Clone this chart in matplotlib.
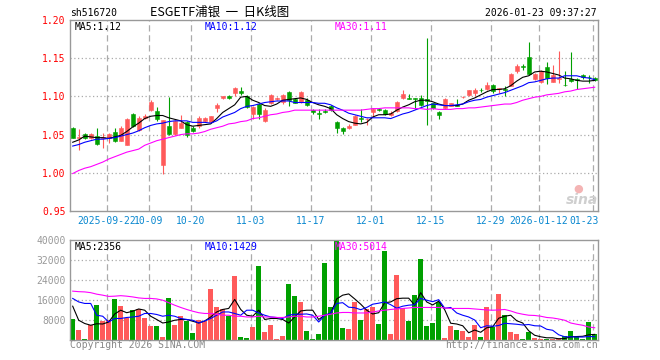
import matplotlib
matplotlib.use("Agg")
import matplotlib.pyplot as plt
import numpy as np

# ---- data (one entry per trading day, 2025-09-12 .. 2026-01-23)
opens = [1.059, 1.046, 1.051, 1.045, 1.048, 1.046, 1.045, 1.053, 1.042, 1.037,
         1.077, 1.056, 1.072, 1.082, 1.081, 1.010, 1.061, 1.051, 1.059, 1.067,
         1.059, 1.061, 1.068, 1.067, 1.085, 1.098, 1.100, 1.104, 1.107, 1.101,
         1.077, 1.090, 1.068, 1.092, 1.096, 1.093, 1.106, 1.096, 1.093, 1.095,
         1.082, 1.078, 1.081, 1.087, 1.067, 1.059, 1.059, 1.063, 1.072, 1.070,
         1.079, 1.083, 1.082, 1.076, 1.081, 1.098, 1.098, 1.098, 1.098, 1.097,
         1.091, 1.080, 1.085, 1.088, 1.089, 1.099, 1.102, 1.105, 1.109, 1.110,
         1.115, 1.110, 1.110, 1.114, 1.133, 1.140, 1.152, 1.123, 1.119, 1.139,
         1.119, 1.123, 1.1155, 1.123, 1.123, 1.128, 1.126, 1.124]
highs = [1.060, 1.057, 1.052, 1.052, 1.059, 1.052, 1.052, 1.059, 1.061, 1.072,
         1.078, 1.074, 1.077, 1.095, 1.086, 1.069, 1.099, 1.069, 1.076, 1.068,
         1.061, 1.074, 1.073, 1.075, 1.092, 1.101, 1.102, 1.112, 1.112, 1.102,
         1.087, 1.091, 1.085, 1.103, 1.099, 1.103, 1.107, 1.098, 1.107, 1.098,
         1.083, 1.083, 1.084, 1.089, 1.068, 1.060, 1.064, 1.076, 1.084, 1.072,
         1.085, 1.085, 1.083, 1.081, 1.094, 1.108, 1.103, 1.098, 1.102, 1.176,
         1.092, 1.081, 1.098, 1.092, 1.096, 1.101, 1.109, 1.111, 1.111, 1.119,
         1.116, 1.111, 1.113, 1.130, 1.143, 1.143, 1.171, 1.130, 1.134, 1.145,
         1.141, 1.159, 1.133, 1.158, 1.124, 1.129, 1.128, 1.125]
lows = [1.045, 1.030, 1.044, 1.044, 1.036, 1.032, 1.039, 1.040, 1.041, 1.036,
        1.060, 1.055, 1.070, 1.081, 1.068, 0.999, 1.050, 1.050, 1.058, 1.047,
        1.054, 1.059, 1.067, 1.066, 1.080, 1.097, 1.097, 1.100, 1.102, 1.085,
        1.071, 1.071, 1.066, 1.090, 1.095, 1.090, 1.088, 1.091, 1.092, 1.087,
        1.077, 1.070, 1.078, 1.081, 1.052, 1.051, 1.057, 1.062, 1.067, 1.063,
        1.073, 1.081, 1.076, 1.074, 1.080, 1.096, 1.097, 1.084, 1.087, 1.062,
        1.083, 1.070, 1.084, 1.087, 1.087, 1.098, 1.100, 1.100, 1.106, 1.108,
        1.105, 1.105, 1.101, 1.113, 1.131, 1.135, 1.128, 1.122, 1.118, 1.116,
        1.119, 1.118, 1.114, 1.119, 1.110, 1.123, 1.118, 1.120]
closes = [1.046, 1.047, 1.045, 1.051, 1.038, 1.047, 1.051, 1.041, 1.059, 1.070,
          1.061, 1.072, 1.075, 1.093, 1.070, 1.069, 1.051, 1.068, 1.065, 1.050,
          1.055, 1.072, 1.072, 1.074, 1.089, 1.100, 1.098, 1.111, 1.105, 1.086,
          1.086, 1.077, 1.082, 1.102, 1.098, 1.102, 1.095, 1.092, 1.106, 1.089,
          1.079, 1.077, 1.080, 1.082, 1.059, 1.055, 1.061, 1.075, 1.070, 1.071,
          1.084, 1.082, 1.077, 1.078, 1.093, 1.103, 1.097, 1.097, 1.089, 1.094,
          1.085, 1.076, 1.097, 1.091, 1.088, 1.099, 1.108, 1.109, 1.108, 1.115,
          1.107, 1.111, 1.109, 1.129, 1.140, 1.139, 1.129, 1.129, 1.133, 1.124,
          1.128, 1.124, 1.1148, 1.120, 1.122, 1.125, 1.125, 1.121]
volume = [8500, 4000, 400, 6100, 14100, 7700, 8000, 16400, 13600, 9000,
          12100, 12500, 8800, 5600, 5600, 1300, 16800, 6000, 9600, 7600,
          2800, 8000, 7600, 20400, 13300, 12400, 9600, 25600, 1300, 1000,
          5200, 29600, 3200, 6000, 400, 1600, 22400, 17600, 15200, 3600,
          400, 2400, 30800, 13200, 39600, 4800, 4400, 15200, 8000, 12400,
          13200, 6400, 35600, 2400, 26000, 12800, 7600, 18000, 32400, 5600,
          6800, 15200, 800, 5600, 4000, 3600, 1200, 6000, 1200, 13200,
          5200, 18400, 10000, 3200, 2400, 400, 3200, 800, 400, 400,
          400, 800, 1600, 3600, 1200, 400, 7200, 2400]

ma5 = [1.040, 1.043, 1.048, 1.047, 1.046, 1.046, 1.045, 1.047, 1.049, 1.054,
       1.060, 1.065, 1.071, 1.074, 1.075, 1.075, 1.072, 1.070, 1.068, 1.063,
       1.061, 1.062, 1.063, 1.064, 1.071, 1.079, 1.084, 1.089, 1.099, 1.100,
       1.095, 1.092, 1.088, 1.087, 1.090, 1.095, 1.096, 1.097, 1.098, 1.096,
       1.092, 1.089, 1.087, 1.084, 1.076, 1.071, 1.067, 1.065, 1.064, 1.066,
       1.073, 1.076, 1.076, 1.077, 1.082, 1.086, 1.089, 1.093, 1.095, 1.095,
       1.093, 1.090, 1.088, 1.088, 1.088, 1.090, 1.095, 1.098, 1.102, 1.106,
       1.109, 1.109, 1.110, 1.114, 1.120, 1.125, 1.127, 1.132, 1.133, 1.132,
       1.130, 1.128, 1.124, 1.123, 1.121, 1.120, 1.120, 1.121]
ma10 = [1.035, 1.037, 1.040, 1.042, 1.044, 1.044, 1.045, 1.046, 1.048, 1.050,
        1.052, 1.055, 1.059, 1.062, 1.064, 1.065, 1.067, 1.068, 1.068, 1.068,
        1.066, 1.066, 1.066, 1.065, 1.068, 1.073, 1.076, 1.079, 1.084, 1.087,
        1.088, 1.090, 1.092, 1.093, 1.094, 1.094, 1.094, 1.092, 1.092, 1.092,
        1.092, 1.091, 1.091, 1.089, 1.085, 1.082, 1.078, 1.076, 1.074, 1.072,
        1.072, 1.072, 1.072, 1.071, 1.074, 1.077, 1.079, 1.082, 1.085, 1.088,
        1.090, 1.089, 1.088, 1.088, 1.089, 1.090, 1.093, 1.095, 1.096, 1.099,
        1.101, 1.103, 1.105, 1.108, 1.111, 1.114, 1.118, 1.119, 1.121, 1.123,
        1.124, 1.124, 1.127, 1.127, 1.127, 1.125, 1.124, 1.122]
ma30 = [0.999, 1.003, 1.006, 1.008, 1.011, 1.014, 1.018, 1.021, 1.024, 1.027,
        1.029, 1.031, 1.036, 1.039, 1.042, 1.044, 1.046, 1.048, 1.050, 1.051,
        1.051, 1.052, 1.054, 1.057, 1.059, 1.061, 1.064, 1.065, 1.067, 1.068,
        1.071, 1.072, 1.074, 1.076, 1.077, 1.079, 1.080, 1.082, 1.082, 1.082,
        1.082, 1.082, 1.082, 1.082, 1.082, 1.082, 1.082, 1.082, 1.082, 1.083,
        1.084, 1.084, 1.085, 1.085, 1.085, 1.085, 1.085, 1.084, 1.084, 1.083,
        1.084, 1.083, 1.083, 1.083, 1.084, 1.084, 1.085, 1.085, 1.086, 1.087,
        1.088, 1.089, 1.090, 1.090, 1.092, 1.095, 1.097, 1.099, 1.100, 1.102,
        1.103, 1.104, 1.106, 1.107, 1.109, 1.110, 1.111, 1.112]

vol_ma5 = [13600, 8000, 6700, 6000, 6600, 6500, 7300, 10500, 12000, 11000,
           11600, 12500, 12000, 9600, 8300, 6900, 7300, 8000, 8300, 8300,
           7600, 6900, 7700, 9300, 11300, 12300, 12700, 16300, 12300, 10000,
           9600, 12000, 8300, 8700, 8700, 8300, 6900, 9300, 11700, 12000,
           12000, 8300, 10000, 10700, 16500, 18000, 18500, 16500, 14400, 12000,
           10500, 11000, 15000, 15300, 16600, 16800, 16800, 14000, 19000, 15300,
           14100, 15600, 12200, 6800, 6500, 5800, 3000, 4100, 3200, 5000,
           5400, 8800, 9600, 10000, 7800, 6900, 3800, 2000, 1400, 1000,
           1000, 600, 700, 1400, 1500, 1600, 2200, 2356]
vol_ma10 = [16700, 15300, 14700, 14700, 10000, 9600, 7300, 8700, 8700, 9100,
            9300, 9600, 10700, 10700, 10300, 9600, 10000, 9600, 8700, 8300,
            8000, 6900, 7700, 8700, 10000, 11300, 11300, 10700, 10000, 12000,
            12000, 10900, 10000, 9300, 9100, 8700, 10000, 10400, 10400, 10500,
            10000, 7300, 10000, 10800, 14700, 15000, 13200, 13000, 12200, 13100,
            14400, 14800, 15300, 14200, 12800, 13600, 14000, 14200, 16700, 16000,
            15400, 16200, 12800, 13100, 10900, 10000, 9300, 8100, 5000, 5800,
            5600, 5900, 6800, 6600, 6400, 6100, 6300, 5800, 5700, 4400,
            4000, 2200, 1400, 1400, 1300, 1300, 1500, 1429]
vol_ma30 = [19600, 19400, 19300, 19000, 18400, 18000, 17500, 17600, 17800, 17600,
            17300, 16900, 16700, 16700, 16500, 16000, 15000, 14000, 13100, 12300,
            11600, 11000, 10700, 10700, 10400, 10000, 10000, 9600, 9600, 9300,
            9300, 9600, 9300, 9300, 9100, 9100, 9300, 9600, 9600, 9300,
            9300, 9600, 10000, 10400, 10900, 11100, 11100, 10900, 10900, 10900,
            11300, 11700, 12000, 12300, 12500, 12700, 12900, 13100, 13100, 13100,
            13100, 13100, 12900, 12700, 12700, 12700, 12700, 12500, 12300, 12100,
            12000, 12100, 12300, 11700, 10900, 10400, 10000, 9900, 9600, 9100,
            8900, 8500, 8000, 6900, 6400, 6000, 5300, 5014]

date_idx = [6, 13, 20, 30, 40, 50, 60, 70, 78, 87]
date_labels = ["2025-09-22", "10-09", "10-20", "11-03", "11-17",
               "12-01", "12-15", "12-29", "2026-01-12", "01-23"]
price_ticks = [0.95, 1.00, 1.05, 1.10, 1.15, 1.20]
vol_ticks = [8000, 16000, 24000, 32000, 40000]

RED = "#ff5a5a"
GREEN = "#00a000"
GRID = "#ababab"
MONO = "DejaVu Sans Mono"
W, H = 660, 360


def box(left, top, right, bottom):
    return [left / W, 1 - bottom / H, (right - left) / W, (bottom - top) / H]


def put(x, y, s, **kw):
    kw.setdefault("family", MONO)
    kw.setdefault("fontsize", 7)
    kw.setdefault("va", "center")
    fig.text(x / W, 1 - y / H, s, **kw)


fig = plt.figure(figsize=(6.6, 3.6), dpi=100)
fig.patch.set_facecolor("white")
ax = fig.add_axes(box(70, 20, 597.7, 211))
axv = fig.add_axes(box(70, 240, 597.7, 340.3))

x = np.arange(len(closes))
o = np.array(opens)
c = np.array(closes)
colors = [RED if cc >= oo else GREEN for oo, cc in zip(o, c)]

for a in (ax, axv):
    a.set_xlim(-0.45, len(x) - 0.5)
    for i in date_idx:
        a.axvline(i - 1 / 3, color=GRID, lw=0.9, ls=(0, (5, 3)), zorder=0)
    for s in a.spines.values():
        s.set_color("#999999")
        s.set_linewidth(1.0)
    a.set_xticks([])
    a.tick_params(axis="y", length=0, pad=3)

# candles
ax.vlines(x, lows, highs, colors=colors, lw=0.8, zorder=2)
body = np.maximum(np.abs(c - o), 0.0007)
ax.bar(x, body, bottom=np.minimum(o, c), width=0.72, color=colors,
       edgecolor=colors, lw=0.4, zorder=3)
ax.plot(x, ma5, color="black", lw=0.8, zorder=4)
ax.plot(x, ma10, color="#0000ff", lw=0.8, zorder=4)
ax.plot(x, ma30, color="#ff00ff", lw=0.8, zorder=4)
ax.set_ylim(0.95, 1.20)
ax.set_yticks(price_ticks)
ax.set_yticklabels(["%.2f" % t for t in price_ticks], color="#ff0000",
                   family=MONO, fontsize=7)
for t in price_ticks[1:-1]:
    ax.axhline(t, color=GRID, lw=0.9, ls=(0, (1, 2)), zorder=0)

# volume
axv.bar(x, volume, width=0.85, color=colors, lw=0, zorder=2)
axv.plot(x, vol_ma5, color="black", lw=0.8, zorder=4)
axv.plot(x, vol_ma10, color="#0000ff", lw=0.8, zorder=4)
axv.plot(x, vol_ma30, color="#ff00ff", lw=0.8, zorder=4)
axv.set_ylim(0, 40000)
axv.set_yticks(vol_ticks)
axv.set_yticklabels([str(t) for t in vol_ticks], color="#999999",
                    family=MONO, fontsize=7)
for t in vol_ticks[:-1]:
    axv.axhline(t, color=GRID, lw=0.9, ls=(0, (1, 2)), zorder=0)

# date labels under the price panel
for i, lab in zip(date_idx[:-1], date_labels[:-1]):
    xp = 70 + (i + 0.45 - 1 / 3) * 6.0
    put(xp, 221.5, lab, ha="center", color="#0a88d0")
# last label sits right after the 2026-01-12 one, as tight as it goes
put(569.5, 221.5, date_labels[-1], ha="left", color="#0a88d0")

# headers and legends
put(70, 13.5, "sh516720", ha="left")
put(220, 12.5, "ESGETF浦银  一  日K线图", ha="center",
    family=["Noto Sans CJK SC", "DejaVu Sans"], fontsize=9)
put(597, 13, "2026-01-23 09:37:27", ha="right")
put(75, 26.5, "MA5:%.2f" % ma5[-1], ha="left", color="black")
put(204.7, 26.5, "MA10:%.2f" % ma10[-1], ha="left", color="#0000ff")
put(334.7, 26.5, "MA30:%.2f" % ma30[-1], ha="left", color="#ff00ff")
put(75, 246.5, "MA5:%d" % vol_ma5[-1], ha="left", color="black")
put(204.7, 246.5, "MA10:%d" % vol_ma10[-1], ha="left", color="#0000ff")
put(334.7, 246.5, "MA30:%d" % vol_ma30[-1], ha="left", color="#ff00ff")
put(70, 345.5, "Copyright 2026 SINA.COM", ha="left", color="#888888")
put(597.5, 345.5, "http://finance.sina.com.cn", ha="right", color="#888888")

# sina watermark
put(578, 189, "\u25cf", ha="center", family="DejaVu Sans", fontsize=8,
    color="#f4b4b4")
put(582, 200, "sina", ha="center", family="DejaVu Sans", fontsize=10,
    style="italic", weight="bold", color="#cfcfcf")

fig.savefig("out.png", dpi=100)
